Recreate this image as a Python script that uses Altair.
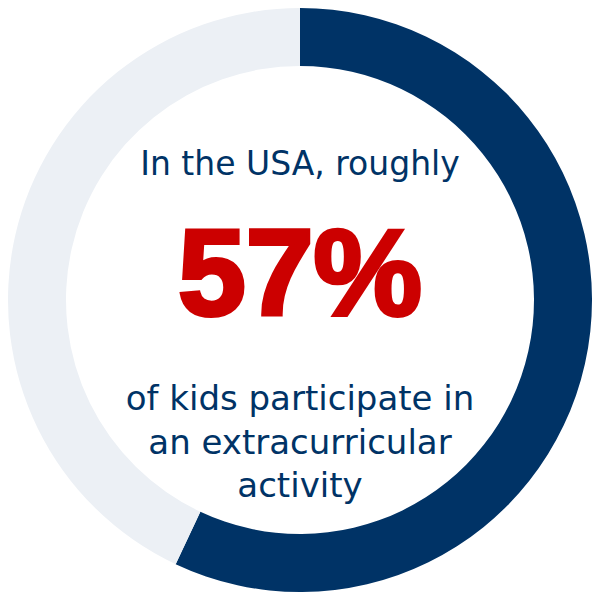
import altair as alt
import pandas as pd

categories = ["Participate", "Do not participate"]
values = [57, 43]
colors = ["#003366", "#ECF0F5"]
headline = "In the USA, roughly"
big = "57%"
lines = ["of kids participate in", "an extracurricular", "activity"]

df = pd.DataFrame({"cat": categories, "val": values, "ord": [0, 1]})

W = 584
FONT = "DejaVu Sans"
arc = alt.Chart(df).mark_arc(outerRadius=292, innerRadius=234, stroke=None).encode(
    theta=alt.Theta("val:Q", stack=True),
    order=alt.Order("ord:Q"),
    color=alt.Color("cat:N", scale=alt.Scale(domain=categories, range=colors), legend=None),
)

t1 = alt.Chart(pd.DataFrame({"t": [headline]})).mark_text(
    font=FONT, fontSize=33, color="#003366", baseline="alphabetic", align="center"
).encode(text="t:N", x=alt.value(W / 2), y=alt.value(167))

t2 = alt.Chart(pd.DataFrame({"t": [big]})).mark_text(
    font="Liberation Sans", fontSize=122, fontWeight=900, color="#CC0000",
    stroke="#CC0000", strokeWidth=4, strokeJoin="miter",
    baseline="alphabetic", align="center"
).encode(text="t:N", x=alt.value(W / 2), y=alt.value(307))

t3 = alt.Chart(pd.DataFrame({"t": lines, "i": [0, 1, 2]})).mark_text(
    font=FONT, fontSize=34, color="#003366", baseline="alphabetic", align="center"
).encode(text="t:N", x=alt.value(W / 2),
         y=alt.Y("i:Q", axis=None, scale=alt.Scale(domain=[0, 2], range=[402, 489])))

chart = alt.layer(arc, t1, t2, t3).properties(
    width=W, height=W, padding=0, autosize=alt.AutoSizeParams(type="none")
).configure_view(stroke=None)

chart.save("out.html", embed_options={"renderer": "svg", "actions": False})
